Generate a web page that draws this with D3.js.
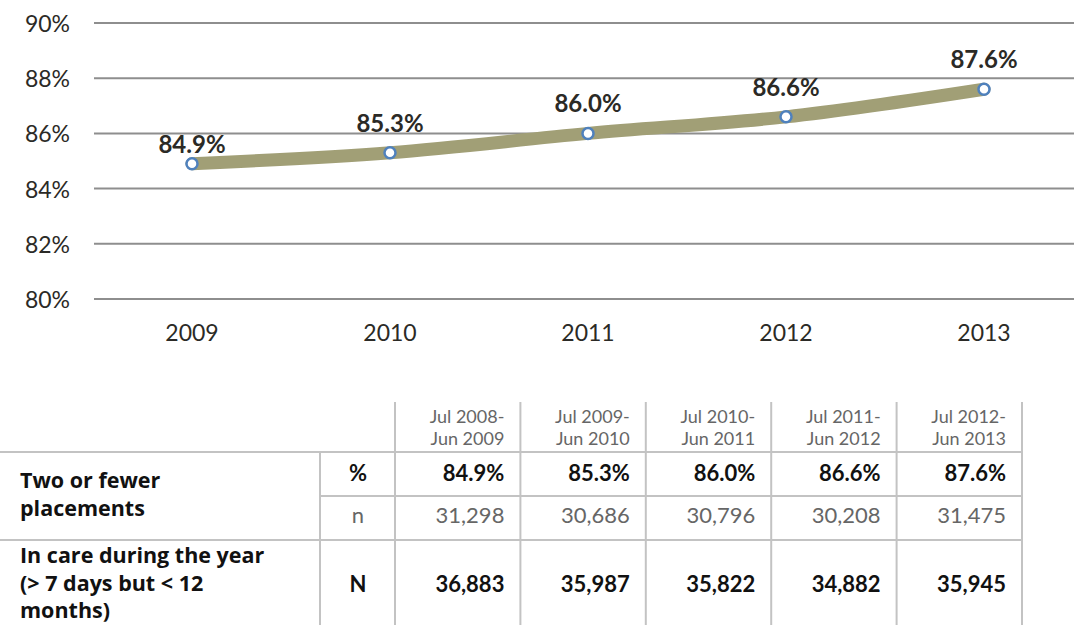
<!DOCTYPE html>
<html>
<head>
<meta charset="utf-8">
<script src="https://cdn.jsdelivr.net/npm/d3@7"></script>
<style>
  body { margin: 0; background: #fff; }
  svg { display: block; font-family: Lato, "Open Sans", sans-serif; }
</style>
</head>
<body>
<svg width="1074" height="625"></svg>
<script>
// chart data
let years = ["2009", "2010", "2011", "2012", "2013"];
let pctValues = [84.9, 85.3, 86.0, 86.6, 87.6];
let yTicks = [80, 82, 84, 86, 88, 90];

// table data
let periods = [["Jul 2008-", "Jun 2009"], ["Jul 2009-", "Jun 2010"], ["Jul 2010-", "Jun 2011"],
               ["Jul 2011-", "Jun 2012"], ["Jul 2012-", "Jun 2013"]];
let nValues = [31298, 30686, 30796, 30208, 31475];
let bigNValues = [36883, 35987, 35822, 34882, 35945];

let svg = d3.select("svg"),
    width = 1074;

let x = d3.scalePoint().domain(years).range([192, 984]);
let y = d3.scaleLinear().domain([80, 90]).range([299, 23]);

// gridlines
svg.append("g")
    .selectAll("line")
    .data(yTicks)
    .enter().append("line")
    .attr("x1", 94).attr("x2", width)
    .attr("y1", d => y(d)).attr("y2", d => y(d))
    .attr("stroke", "#8e8e8e")
    .attr("stroke-width", 2);

// y tick labels
svg.append("g")
    .selectAll("text")
    .data(yTicks)
    .enter().append("text")
    .attr("x", 70)
    .attr("y", d => y(d) + 9)
    .attr("text-anchor", "end")
    .attr("font-size", 23)
    .attr("fill", "#2b2a26")
    .text(d => d + "%");

// x labels
svg.append("g")
    .selectAll("text")
    .data(years)
    .enter().append("text")
    .attr("x", d => x(d))
    .attr("y", 341)
    .attr("text-anchor", "middle")
    .attr("font-size", 23)
    .attr("fill", "#2b2a26")
    .text(d => d);

let pts = years.map((yr, i) => ({ year: yr, v: pctValues[i] }));

let line = d3.line()
    .x(d => x(d.year))
    .y(d => y(d.v))
    .curve(d3.curveMonotoneX);

svg.append("path")
    .datum(pts)
    .attr("d", line)
    .attr("fill", "none")
    .attr("stroke", "#a19f76")
    .attr("stroke-width", 13)
    .attr("stroke-linecap", "round");

svg.append("g")
    .selectAll("circle")
    .data(pts)
    .enter().append("circle")
    .attr("cx", d => x(d.year))
    .attr("cy", d => y(d.v))
    .attr("r", 5.5)
    .attr("fill", "#fff")
    .attr("stroke", "#4f81bd")
    .attr("stroke-width", 2.5);

svg.append("g")
    .selectAll("text")
    .data(pts)
    .enter().append("text")
    .attr("x", d => x(d.year))
    .attr("y", (d, i) => y(d.v) - (i === 0 ? 11 : 21))
    .attr("text-anchor", "middle")
    .attr("font-size", 24)
    .attr("font-weight", "bold")
    .attr("fill", "#2b2a26")
    .text(d => d.v.toFixed(1) + "%");

//////////// TABLE ////////////

let col = d3.scaleBand().domain(d3.range(periods.length)).range([395, 1022]);
let fmt = d3.format(",");
let gridColor = "#c3c3c3";

let table = svg.append("g");

function hline(y0, x0, x1) {
    table.append("line")
        .attr("x1", x0).attr("x2", x1)
        .attr("y1", y0).attr("y2", y0)
        .attr("stroke", gridColor).attr("stroke-width", 2);
}
function vline(x0, y0, y1) {
    table.append("line")
        .attr("x1", x0).attr("x2", x0)
        .attr("y1", y0).attr("y2", y1)
        .attr("stroke", gridColor).attr("stroke-width", 2);
}

hline(452, 0, 1022);
hline(496, 320, 1022);
hline(540, 0, 1022);
vline(320, 452, 625);
d3.range(periods.length + 1).forEach(i => vline(395 + i * col.bandwidth(), 402, 625));

// header
periods.forEach((p, i) => {
    let t = table.append("text")
        .attr("text-anchor", "end")
        .attr("font-size", 18)
        .attr("fill", "#666");
    t.append("tspan").attr("x", col(i) + col.bandwidth() - 16).attr("y", 423).text(p[0]);
    t.append("tspan").attr("x", col(i) + col.bandwidth() - 16).attr("y", 445).text(p[1]);
});

// row labels
let rowLabels = [
    { lines: ["Two or fewer", "placements"], y: 488 },
    { lines: ["In care during the year", "(> 7 days but < 12", "months)"], y: 563 }
];
rowLabels.forEach(r => {
    let t = table.append("text")
        .attr("font-family", "'Open Sans', sans-serif")
        .attr("font-size", 21.5)
        .attr("font-weight", "bold")
        .attr("fill", "#111");
    r.lines.forEach((l, j) => t.append("tspan").attr("x", 20).attr("y", r.y + j * 27.5).text(l));
});

table.append("text").attr("x", 358).attr("y", 481).attr("text-anchor", "middle")
    .attr("font-size", 22).attr("font-weight", "bold").attr("fill", "#111").text("%");
table.append("text").attr("x", 358).attr("y", 523).attr("text-anchor", "middle")
    .attr("font-size", 22).attr("fill", "#666").text("n");
table.append("text").attr("x", 358).attr("y", 592).attr("text-anchor", "middle")
    .attr("font-size", 22).attr("font-weight", "bold").attr("fill", "#111").text("N");

let rows = [
    { vals: pctValues.map(v => v.toFixed(1) + "%"), y: 481, bold: true },
    { vals: nValues.map(fmt), y: 523, bold: false },
    { vals: bigNValues.map(fmt), y: 592, bold: true }
];
rows.forEach(r => {
    table.append("g")
        .selectAll("text")
        .data(r.vals)
        .enter().append("text")
        .attr("x", (d, i) => col(i) + col.bandwidth() - 16)
        .attr("y", r.y)
        .attr("text-anchor", "end")
        .attr("font-size", 22)
        .attr("font-weight", r.bold ? "bold" : "normal")
        .attr("fill", r.bold ? "#111" : "#666")
        .text(d => d);
});
</script>
</body>
</html>
